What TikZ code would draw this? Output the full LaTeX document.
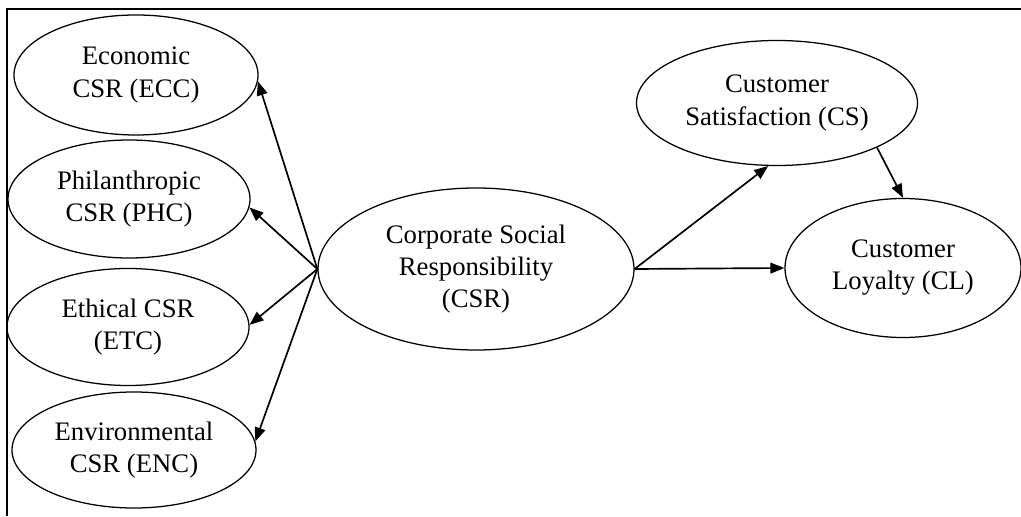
\documentclass[tikz,border=0pt]{standalone}
\usepackage{fontspec}
\setmainfont{Liberation Serif}
\usetikzlibrary{arrows.meta,positioning,shapes.geometric}

\begin{document}
\begin{tikzpicture}[
  construct/.style={draw, ellipse, inner sep=0pt, align=center,
                    font=\fontsize{19}{22.8}\selectfont, line width=0.9pt},
  arrow/.style={-{Triangle[length=3.5mm,width=2.7mm]}, line width=1.2pt}
]
\useasboundingbox (0,0) rectangle (25.525,12.9);

% Frame - top and left edges only
\draw[line width=1pt] (0.175,0) -- (0.175,12.675) -- (25.525,12.675);

% CSR dimensions
\node[construct, minimum width=6.1cm, minimum height=3cm] (ecc) at (3.4,11.025)
  {Economic\\CSR (ECC)};
\node[construct, minimum width=6.05cm, minimum height=2.95cm] (phc) at (3.225,7.925)
  {Philanthropic\\CSR (PHC)};
\node[construct, minimum width=6.05cm, minimum height=2.925cm] (etc) at (3.2,4.725)
  {Ethical CSR\\(ETC)};
\node[construct, minimum width=6.1cm, minimum height=2.9cm] (enc) at (3.35,1.65)
  {Environmental\\CSR (ENC)};

% Core construct
\node[construct, minimum width=7.9cm, minimum height=4.05cm] (csr) at (11.9,6.175)
  {Corporate Social\\Responsibility\\(CSR)};

% Outcomes
\node[construct, minimum width=7.025cm, minimum height=3.125cm] (cs) at (19.425,10.325)
  {Customer\\Satisfaction (CS)};
\node[construct, minimum width=5.9cm, minimum height=3.475cm] (cl) at (22.575,6.2)
  {Customer\\Loyalty (CL)};

% Arrows
\draw[arrow] (csr.west) -- (ecc.-3);
\draw[arrow] (csr.west) -- (phc.-4);
\draw[arrow] (csr.west) -- (etc.1);
\draw[arrow] (csr.west) -- (enc.4);
\draw[arrow] (csr.east) -- (cs.-98);
\draw[arrow] (csr.east) -- (cl.west);
\draw[arrow] (cs.-24) -- (cl.north);

\end{tikzpicture}
\end{document}
